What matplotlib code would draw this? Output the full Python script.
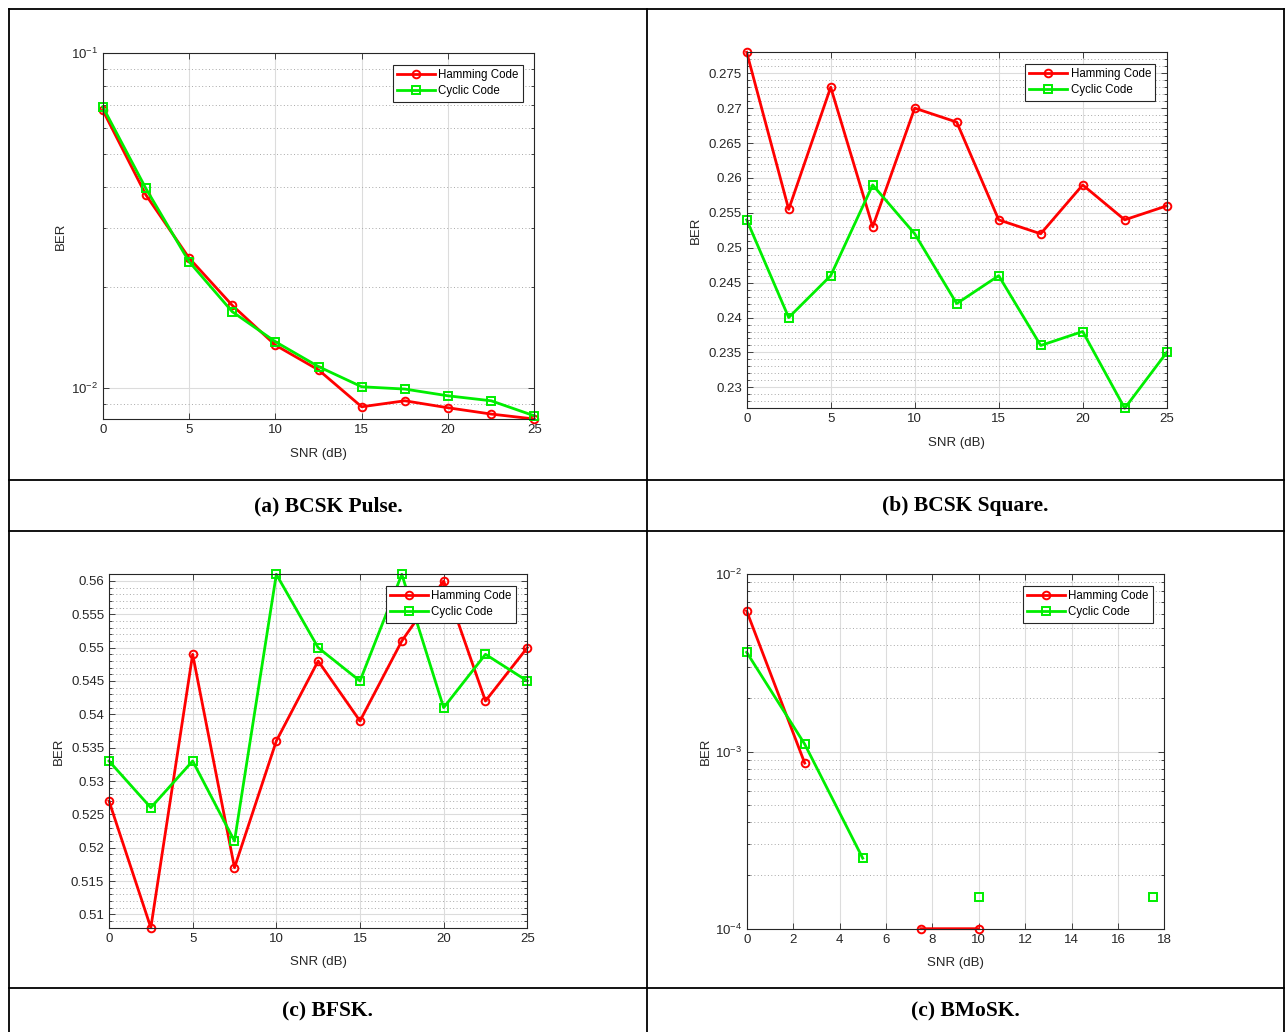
import numpy as np
import matplotlib
matplotlib.use("Agg")
import matplotlib.pyplot as plt
from matplotlib.lines import Line2D
from matplotlib.ticker import MultipleLocator, FormatStrFormatter, NullFormatter

# ---------------- data ----------------
snr = [0, 2.5, 5, 7.5, 10, 12.5, 15, 17.5, 20, 22.5, 25]
snr_d = [0, 2.5, 5, 7.5, 10, 12.5, 15, 17.5]

pulse_hamming = [0.0677, 0.0378, 0.0245, 0.0177, 0.01346, 0.01135, 0.00881, 0.00918, 0.00875, 0.00838, 0.0081]
pulse_cyclic = [0.0693, 0.0395, 0.0239, 0.01694, 0.01378, 0.01161, 0.01011, 0.00995, 0.0095, 0.00918, 0.00828]

square_hamming = [0.278, 0.2555, 0.273, 0.253, 0.270, 0.268, 0.254, 0.252, 0.259, 0.254, 0.256]
square_cyclic = [0.254, 0.240, 0.246, 0.259, 0.252, 0.242, 0.246, 0.236, 0.238, 0.227, 0.235]

bfsk_hamming = [0.527, 0.508, 0.549, 0.517, 0.536, 0.548, 0.539, 0.551, 0.560, 0.542, 0.550]
bfsk_cyclic = [0.533, 0.526, 0.533, 0.521, 0.561, 0.550, 0.545, 0.561, 0.541, 0.549, 0.545]

# zero BER values cannot be shown on the log axis
bmosk_hamming = [0.0062, 0.00086, 0, 0.0001, 0.0001, 0, 0, 0]
bmosk_cyclic = [0.00363, 0.0011, 0.00025, 0, 0.00015, 0, 0, 0.00015]

captions = ["(a) BCSK Pulse.", "(b) BCSK Square.", "(c) BFSK.", "(c) BMoSK."]
series_names = ["Hamming Code", "Cyclic Code"]

RED = "#ff0000"
GREEN = "#00ee00"
W, H = 1285, 1032

plt.rcParams['font.family'] = ['Liberation Sans', 'DejaVu Sans']
fig = plt.figure(figsize=(W / 100, H / 100), dpi=100)


def px_rect(l, t, r, b):
    return [l / W, 1 - b / H, (r - l) / W, (b - t) / H]


def style(ax):
    ax.tick_params(which='both', direction='in', top=True, right=True,
                   labelsize=9.5, colors='#262626', width=0.6)
    ax.tick_params(which='major', length=4)
    ax.tick_params(which='minor', length=2)
    for s in ax.spines.values():
        s.set_color('#262626')
        s.set_linewidth(0.8)
        s.set_zorder(4)
    ax.grid(True, which='major', color='#dcdcdc', linewidth=0.8, linestyle='-')
    ax.grid(True, which='minor', axis='y', color='#a8a8a8', linewidth=0.7, linestyle=(0, (1, 2.5)))
    ax.set_axisbelow(True)
    ax.set_xlabel("SNR (dB)", fontsize=9.5, color='#262626')
    ax.set_ylabel("BER", fontsize=9.5, color='#262626')
    leg = ax.legend(loc='upper right', fontsize=8.3, fancybox=False, framealpha=1,
                    edgecolor='#262626', borderaxespad=1.0, handlelength=3.3,
                    handletextpad=0.3, labelspacing=0.4, borderpad=0.35)
    leg.get_frame().set_linewidth(0.8)
    leg.set_zorder(6)


def plot_pair(ax, x, yh, yc):
    yh = np.asarray(yh, dtype=float)
    yc = np.asarray(yc, dtype=float)
    yh = np.where(yh > 0, yh, np.nan)
    yc = np.where(yc > 0, yc, np.nan)
    ax.plot(x, yh, color=RED, lw=2, marker='o', ms=5.5, mfc='none', mew=1.4,
            label=series_names[0], zorder=3, clip_on=False)
    ax.plot(x, yc, color=GREEN, lw=2, marker='s', ms=5.5, mfc='none', mew=1.4,
            label=series_names[1], zorder=3, clip_on=False)


# (a) BCSK Pulse
ax = fig.add_axes(px_rect(102.7, 53.3, 534.3, 419))
plot_pair(ax, snr, pulse_hamming, pulse_cyclic)
ax.set_yscale('log')
ax.set_ylim(min(pulse_hamming), 0.1)
ax.set_xlim(0, 25)
ax.xaxis.set_major_locator(MultipleLocator(5))
ax.yaxis.set_minor_formatter(NullFormatter())
style(ax)
ax.yaxis.set_label_coords(-0.083, 0.5)
ax.xaxis.set_label_coords(0.5, -0.078)

# (b) BCSK Square
ax = fig.add_axes(px_rect(746.7, 52.3, 1166.7, 408.3))
plot_pair(ax, snr, square_hamming, square_cyclic)
ax.set_ylim(min(square_cyclic), max(square_hamming))
ax.set_xlim(0, 25)
ax.xaxis.set_major_locator(MultipleLocator(5))
ax.yaxis.set_major_locator(MultipleLocator(0.005))
ax.yaxis.set_minor_locator(MultipleLocator(0.001))
ax.yaxis.set_major_formatter(FormatStrFormatter('%g'))
style(ax)
ax.yaxis.set_label_coords(-0.107, 0.5)
ax.xaxis.set_label_coords(0.5, -0.081)

# (c) BFSK
ax = fig.add_axes(px_rect(109, 574.3, 527.3, 927.7))
plot_pair(ax, snr, bfsk_hamming, bfsk_cyclic)
ax.set_ylim(min(bfsk_hamming), max(bfsk_cyclic))
ax.set_xlim(0, 25)
ax.xaxis.set_major_locator(MultipleLocator(5))
ax.yaxis.set_major_locator(MultipleLocator(0.005))
ax.yaxis.set_minor_locator(MultipleLocator(0.001))
ax.yaxis.set_major_formatter(FormatStrFormatter('%g'))
style(ax)
ax.yaxis.set_label_coords(-0.105, 0.5)
ax.xaxis.set_label_coords(0.5, -0.08)

# (d) BMoSK
ax = fig.add_axes(px_rect(746.7, 574.3, 1164.3, 928.7))
plot_pair(ax, snr_d, bmosk_hamming, bmosk_cyclic)
ax.set_yscale('log')
ax.set_ylim(1e-4, 1e-2)
ax.set_xlim(0, 18)
ax.xaxis.set_major_locator(MultipleLocator(2))
ax.yaxis.set_minor_formatter(NullFormatter())
style(ax)
ax.yaxis.set_label_coords(-0.083, 0.5)
ax.xaxis.set_label_coords(0.5, -0.08)

# ---------------- table frame ----------------
def hline(y, x0=8.75, x1=1284):
    fig.add_artist(Line2D([x0 / W, x1 / W], [1 - y / H, 1 - y / H], color='black', lw=1.3))


def vline(x, y0=8.75, y1=1040):
    fig.add_artist(Line2D([x / W, x / W], [1 - y0 / H, 1 - y1 / H], color='black', lw=1.3))


for y in [8.75, 480, 531, 988]:
    hline(y)
for x in [8.75, 647, 1284]:
    vline(x)

cap_pos = [(328, 506), (965.5, 506), (328, 1011), (965.5, 1011)]
for (cx, cy), txt in zip(cap_pos, captions):
    fig.text(cx / W, 1 - cy / H, txt, ha='center', va='center', fontsize=15.5,
             fontweight='bold', family=['Liberation Serif', 'DejaVu Serif'])

fig.savefig("out.png", dpi=100)
